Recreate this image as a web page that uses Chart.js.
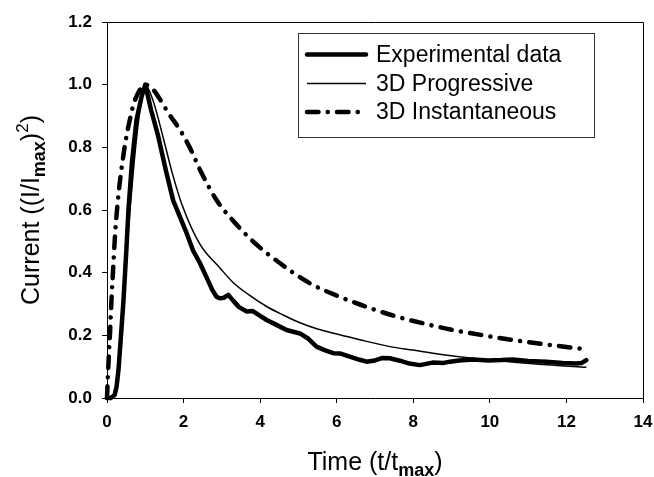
<!DOCTYPE html>
<html>
<head>
<meta charset="utf-8">
<script src="https://cdn.jsdelivr.net/npm/chart.js@4.4.1/dist/chart.umd.min.js"></script>
<style>
    html, body { margin: 0; padding: 0; background: #ffffff; }
</style>
</head>
<body>
<canvas id="chart" width="654" height="477"></canvas>
<script>
// Experimental current transient
const expT = [0, 0.1, 0.2, 0.25, 0.3, 0.36, 0.43, 0.5, 0.56, 0.65, 0.77, 0.9, 1.0,
    1.15, 1.34, 1.55, 1.73, 1.9, 2.08, 2.25, 2.43, 2.6, 2.75, 2.86, 2.95, 3.05, 3.17,
    3.3, 3.45, 3.65, 3.8, 4.0, 4.17, 4.4, 4.69, 5.04, 5.25, 5.47, 5.7, 5.91, 6.1, 6.34,
    6.6, 6.78, 7.0, 7.2, 7.39, 7.65, 7.9, 8.17, 8.5, 8.8, 8.96, 9.2, 9.56, 9.96, 10.3,
    10.6, 11.0, 11.48, 11.9, 12.26, 12.4, 12.52];
const expV = [0, 0, 0.01, 0.036, 0.09, 0.19, 0.31, 0.46, 0.6, 0.75, 0.887, 0.96, 1.0,
    0.92, 0.834, 0.72, 0.63, 0.58, 0.526, 0.47, 0.43, 0.385, 0.345, 0.323, 0.318, 0.32, 0.329,
    0.31, 0.29, 0.276, 0.278, 0.262, 0.249, 0.235, 0.217, 0.206, 0.19, 0.164, 0.152, 0.143, 0.142, 0.132,
    0.122, 0.116, 0.12, 0.128, 0.127, 0.119, 0.11, 0.105, 0.113, 0.112, 0.116, 0.12, 0.123, 0.12, 0.121,
    0.123, 0.118, 0.116, 0.112, 0.11, 0.112, 0.121];

// 3D progressive nucleation model
const progT = [0, 0.2, 0.3, 0.4, 0.5, 0.6, 0.7, 0.8, 0.9, 1.0, 1.2, 1.47, 1.7, 1.95,
    2.43, 2.95, 3.3, 3.7, 4.17, 4.6, 5.04, 5.5, 6.08, 6.6, 7.39, 8.0, 8.69, 9.56,
    10.5, 11.48, 12.52];
const progV = [0, 0.01, 0.1, 0.25, 0.44, 0.6, 0.74, 0.86, 0.95, 1.0, 0.95, 0.83, 0.72, 0.62,
    0.49, 0.415, 0.368, 0.33, 0.292, 0.265, 0.24, 0.22, 0.202, 0.186, 0.164, 0.153, 0.14, 0.127,
    0.116, 0.106, 0.098];

// 3D instantaneous nucleation model
const instT = [0, 0.02, 0.05, 0.08, 0.12, 0.16, 0.21, 0.3, 0.4, 0.5, 0.6, 0.7, 0.8, 0.9, 1.0,
    1.2, 1.4, 1.6, 1.91, 2.2, 2.43, 2.86, 3.3, 3.82, 4.52, 5.3, 6.08, 6.8, 7.56, 8.3, 9.04,
    9.83, 10.6, 11.39, 12.0, 12.52];
const instV = [0, 0.06, 0.14, 0.21, 0.32, 0.41, 0.52, 0.65, 0.75, 0.83, 0.89, 0.94, 0.97, 0.99, 1.0,
    0.985, 0.95, 0.91, 0.855, 0.79, 0.728, 0.632, 0.565, 0.499, 0.43, 0.366, 0.323, 0.29, 0.26, 0.237, 0.217,
    0.2, 0.185, 0.172, 0.163, 0.155];

const seriesLabels = ['Experimental data', '3D Progressive', '3D Instantaneous'];
const xTicks = [0, 2, 4, 6, 8, 10, 12, 14];
const yTicks = [0, 0.2, 0.4, 0.6, 0.8, 1.0, 1.2];

const FONT = "'Liberation Sans', Arial, sans-serif";

function pairs(t, v) {
    return t.map((x, i) => ({ x: x, y: v[i] }));
}

// draws a line of text made of pieces with their own size / offset (sub- and superscripts)
function drawRich(ctx, parts, cx, baseline) {
    let total = 0;
    parts.forEach((p) => {
        ctx.font = (p.weight || 'normal') + ' ' + p.size + 'px ' + FONT;
        p.w = ctx.measureText(p.text).width;
        total += p.w;
    });
    let x = cx - total / 2;
    ctx.textAlign = 'left';
    ctx.textBaseline = 'alphabetic';
    parts.forEach((p) => {
        ctx.font = (p.weight || 'normal') + ' ' + p.size + 'px ' + FONT;
        ctx.fillText(p.text, x, baseline + (p.dy || 0));
        x += p.w;
    });
}

const framePlugin = {
    id: 'frame',
    afterDraw(chart) {
        const ctx = chart.ctx;
        const a = chart.chartArea;
        ctx.save();
        // top and right edges of the box
        ctx.strokeStyle = '#000000';
        ctx.lineWidth = 1;
        ctx.beginPath();
        ctx.moveTo(a.left, a.top + 0.5);
        ctx.lineTo(a.right + 0.5, a.top + 0.5);
        ctx.lineTo(a.right + 0.5, a.bottom);
        ctx.stroke();

        ctx.fillStyle = '#000000';
        // x title
        drawRich(ctx, [
            { text: 'Time (t/t', size: 25 },
            { text: 'max', size: 18, weight: 'bold', dy: 6 },
            { text: ')', size: 25 },
        ], (a.left + a.right) / 2, 470);

        // y title
        ctx.save();
        ctx.translate(38.5, (a.top + a.bottom) / 2);
        ctx.rotate(-Math.PI / 2);
        drawRich(ctx, [
            { text: 'Current ((I/I', size: 25 },
            { text: 'max', size: 18, weight: 'bold', dy: 6 },
            { text: ')', size: 25 },
            { text: '2', size: 17, dy: -10.5 },
            { text: ')', size: 25 },
        ], 0, 0);
        ctx.restore();

        // legend box
        ctx.strokeStyle = '#333333';
        ctx.lineWidth = 1;
        ctx.strokeRect(298.5, 33.5, 296, 104);
        const rows = [54.5, 83.5, 112];
        chart.data.datasets.forEach((ds, i) => {
            ctx.save();
            ctx.strokeStyle = ds.borderColor;
            ctx.lineWidth = ds.borderWidth;
            ctx.lineCap = ds.borderCapStyle || 'butt';
            ctx.setLineDash(ds.borderDash || []);
            ctx.beginPath();
            ctx.moveTo(307, rows[i]);
            ctx.lineTo(366, rows[i]);
            ctx.stroke();
            ctx.restore();
            ctx.font = '23px ' + FONT;
            ctx.textAlign = 'left';
            ctx.textBaseline = 'middle';
            ctx.fillText(ds.label, 376, rows[i] + 1);
        });
        ctx.restore();
    },
};

new Chart(document.getElementById('chart'), {
    type: 'line',
    data: {
        datasets: [
            {
                label: seriesLabels[0],
                data: pairs(expT, expV),
                borderColor: '#000000',
                borderWidth: 4.5,
                borderJoinStyle: 'round',
                borderCapStyle: 'round',
                tension: 0,
            },
            {
                label: seriesLabels[1],
                data: pairs(progT, progV),
                borderColor: '#000000',
                borderWidth: 1.5,
                cubicInterpolationMode: 'monotone',
            },
            {
                label: seriesLabels[2],
                data: pairs(instT, instV),
                borderColor: '#000000',
                borderWidth: 4.5,
                borderCapStyle: 'round',
                borderDash: [11.5, 9.2, 0.1, 9.2],
                cubicInterpolationMode: 'monotone',
            },
        ],
    },
    options: {
        responsive: false,
        animation: false,
        clip: false,
        datasets: {
            line: {
                pointRadius: 0,
            },
        },
        layout: {
            padding: { left: 0, right: 11, top: 22, bottom: 0 },
        },
        scales: {
            x: {
                type: 'linear',
                min: 0,
                max: 14,
                afterFit: (scale) => {
                    scale.height = 79;
                    scale.paddingLeft = 0;
                    scale.paddingRight = 0;
                },
                afterBuildTicks: (scale) => {
                    scale.ticks = xTicks.map((v) => ({ value: v }));
                },
                border: { display: true, color: '#000000', width: 1 },
                grid: {
                    drawOnChartArea: false,
                    drawTicks: true,
                    tickLength: 5,
                    tickColor: '#000000',
                },
                ticks: {
                    color: '#000000',
                    padding: 9,
                    maxRotation: 0,
                    autoSkip: false,
                    font: { family: FONT, size: 17, weight: 'bold' },
                    callback: (v) => String(v),
                },
            },
            y: {
                type: 'linear',
                min: 0,
                max: 1.2,
                afterFit: (scale) => {
                    scale.width = 107;
                    scale.paddingTop = 0;
                    scale.paddingBottom = 0;
                },
                afterBuildTicks: (scale) => {
                    scale.ticks = yTicks.map((v) => ({ value: v }));
                },
                border: { display: true, color: '#000000', width: 1 },
                grid: {
                    drawOnChartArea: false,
                    drawTicks: true,
                    tickLength: 5,
                    tickColor: '#000000',
                },
                ticks: {
                    color: '#000000',
                    padding: 10,
                    autoSkip: false,
                    font: { family: FONT, size: 17, weight: 'bold' },
                    callback: (v) => v.toFixed(1),
                },
            },
        },
        plugins: {
            legend: { display: false },
            tooltip: { enabled: false },
        },
    },
    plugins: [framePlugin],
});
</script>
</body>
</html>
